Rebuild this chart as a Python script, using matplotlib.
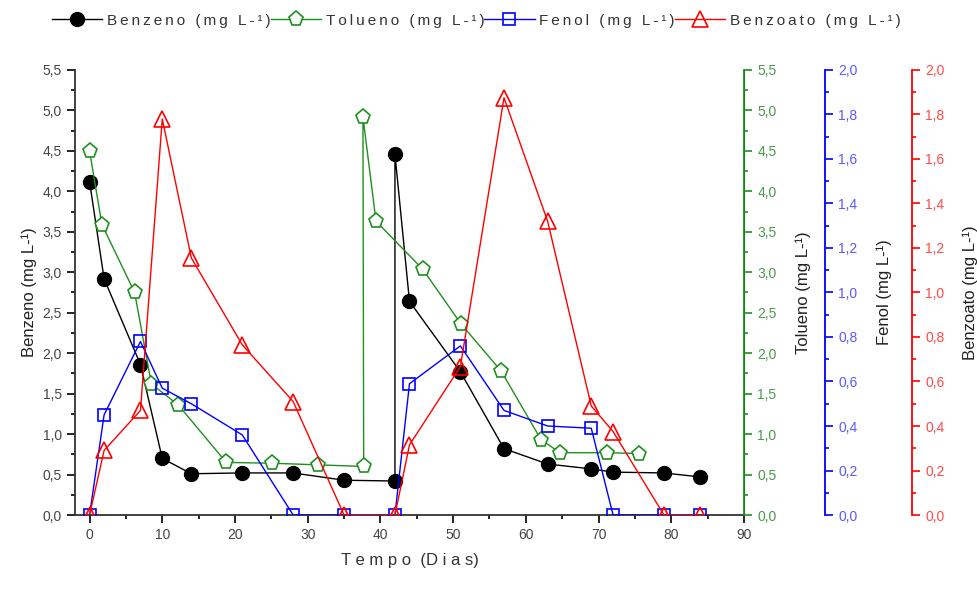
import numpy as np
import matplotlib
matplotlib.use('Agg')
import matplotlib.pyplot as plt
from matplotlib.ticker import FuncFormatter, MultipleLocator

plt.rcParams['font.family'] = ['Liberation Sans', 'DejaVu Sans']

########################################################
# data (days, mg L-1)
dias_benzeno = [0, 2, 7, 10, 14, 21, 28, 35, 42, 42, 44, 51, 57, 63, 69, 72, 79, 84]
benzeno = [4.12, 2.92, 1.86, 0.70, 0.51, 0.52, 0.52, 0.43, 0.42, 4.46, 2.64, 1.77, 0.82, 0.63, 0.57, 0.53, 0.52, 0.47]

dias_tolueno = [0, 1.7, 6.2, 8.5, 12.2, 18.8, 25.1, 31.4, 37.7, 37.6, 39.4, 45.8, 51.1, 56.6, 62.1, 64.7, 71.1, 75.6]
tolueno = [4.50, 3.59, 2.75, 1.62, 1.36, 0.65, 0.64, 0.62, 0.60, 4.92, 3.63, 3.04, 2.36, 1.78, 0.93, 0.77, 0.77, 0.76]

dias_fenol = [0, 2, 7, 10, 14, 21, 28, 35, 42, 44, 51, 57, 63, 69, 72, 79, 84]
fenol = [0, 0.45, 0.78, 0.57, 0.50, 0.36, 0, 0, 0, 0.59, 0.76, 0.47, 0.40, 0.39, 0, 0, 0]

dias_benzoato = [0, 2, 7, 10, 14, 21, 28, 35, 42, 44, 51, 57, 63, 69, 72, 79, 84]
benzoato = [0, 0.29, 0.47, 1.78, 1.155, 0.765, 0.51, 0, 0, 0.315, 0.667, 1.875, 1.32, 0.49, 0.375, 0, 0]

xticks = np.arange(0, 91, 10)
nomes = ['Benzeno (mg L-¹)', 'Tolueno (mg L-¹)', 'Fenol (mg L-¹)', 'Benzoato (mg L-¹)']
########################################################

def virgula(v, p):
    return f'{v:.1f}'.replace('.', ',')

def espacado(s):
    # Origin-style letter spacing in the legend (thin spaces)
    return '\u2009'.join(s)

fig = plt.figure(figsize=(9.78, 5.9), dpi=100)
ax = fig.add_axes([0.0767, 0.1271, 0.684, 0.7543])
ax2 = ax.twinx()
ax3 = ax.twinx()
ax4 = ax.twinx()
ax3.spines['right'].set_position(('axes', 1.121))
ax4.spines['right'].set_position(('axes', 1.251))

verde = '#1f8f1f'
azul = '#0000ff'
verm = '#ff0000'

l1, = ax.plot(dias_benzeno, benzeno, '-o', color='black', ms=10, lw=1, label=espacado(nomes[0]))
l2, = ax2.plot(dias_tolueno, tolueno, '-p', color=verde, mfc='white', mec=verde, ms=11, mew=1.2, lw=1, label=espacado(nomes[1]))
l3, = ax3.plot(dias_fenol, fenol, '-s', color=azul, mfc='none', mec=azul, ms=9, mew=1.2, lw=1, label=espacado(nomes[2]))
l4, = ax4.plot(dias_benzoato, benzoato, '-^', color=verm, mfc='none', mec=verm, ms=11, mew=1.2, lw=1, label=espacado(nomes[3]))

ax.set_xlim(-2, 90)
ax.set_xticks(xticks)
ax.xaxis.set_minor_locator(MultipleLocator(5))
ax.set_ylim(0, 5.5)
ax.yaxis.set_major_locator(MultipleLocator(0.5))
ax.yaxis.set_minor_locator(MultipleLocator(0.25))
ax.yaxis.set_major_formatter(FuncFormatter(virgula))
ax.tick_params(which='both', direction='out', labelsize=10, labelcolor='#444444', width=1.2)
ax.tick_params(which='major', length=6)
ax.tick_params(which='minor', length=3)
ax.spines['top'].set_visible(False)
for s in ['left', 'bottom']:
    ax.spines[s].set_linewidth(1.3)
    ax.spines[s].set_color('#333333')
ax.set_xlabel('T e m p o  (D i a s)', fontsize=12, color='#333333', labelpad=8)
ax.set_ylabel(nomes[0], fontsize=12, color='#222222', labelpad=4)

for a, cor, txtcor, lim, maj, mnr, nome, pad in [
        (ax2, verde, '#4a9a4a', 5.5, 0.5, 0.25, nomes[1], 14),
        (ax3, azul, '#5a5aff', 2.0, 0.2, 0.1, nomes[2], 14),
        (ax4, verm, '#ff4a4a', 2.0, 0.2, 0.1, nomes[3], 13)]:
    a.set_ylim(0, lim)
    a.yaxis.set_major_locator(MultipleLocator(maj))
    a.yaxis.set_minor_locator(MultipleLocator(mnr))
    a.yaxis.set_major_formatter(FuncFormatter(virgula))
    a.tick_params(which='both', direction='out', labelsize=10, labelcolor=txtcor, color=cor, width=1.2)
    a.tick_params(which='major', length=6)
    a.tick_params(which='minor', length=3)
    for s in ['top', 'left', 'bottom']:
        a.spines[s].set_visible(False)
    a.spines['right'].set_color(cor)
    a.spines['right'].set_linewidth(1.3)
    a.set_ylabel(nome, fontsize=12, color='#222222', labelpad=pad)

fig.legend(handles=[l1, l2, l3, l4], loc='upper center', bbox_to_anchor=(0.487, 1.0),
           ncol=4, frameon=False, fontsize=11, handlelength=3.3, handletextpad=0.3,
           columnspacing=0.0, labelcolor='#333333')

fig.savefig('out.png', dpi=100)
